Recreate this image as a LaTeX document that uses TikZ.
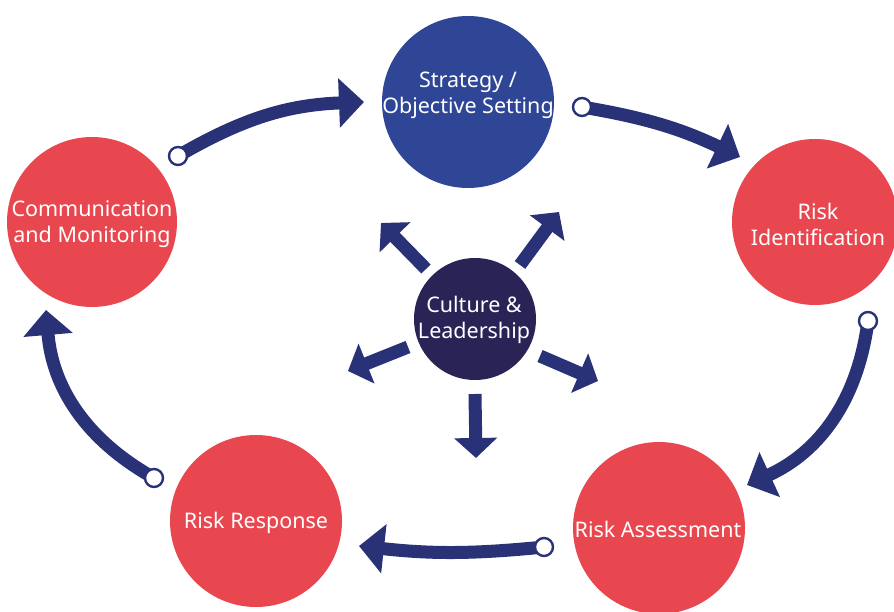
\documentclass[tikz,border=0pt]{standalone}
\usepackage{fontspec}
\setmainfont{Noto Sans}
\usetikzlibrary{arrows.meta}
\definecolor{redc}{HTML}{E8474F}
\definecolor{bluec}{HTML}{2F4596}
\definecolor{darkc}{HTML}{2A2356}
\definecolor{navy}{HTML}{293276}
\begin{document}
\begin{tikzpicture}[x=1pt,y=-1pt,
  bubble/.style={circle, fill=redc, minimum size=170pt, inner sep=0pt},
  lbl/.style={text=white, font=\fontsize{21.5}{26}\selectfont, align=center, inner sep=0pt},
  flow/.style={draw=navy, line width=13pt, -{Triangle[length=25pt 0 0, width=48pt 0 0]}},
  cflow/.style={draw=navy, line width=13pt, -{Triangle[length=20pt 0 0, width=42pt 0 0]}},
  dot/.style={circle, draw=navy, fill=white, line width=2.4pt, minimum size=18pt, inner sep=0pt}]
\useasboundingbox (0,0) rectangle (894,612);
% circles
\node[bubble, fill=bluec, minimum size=172pt] (strat) at (468,102) {};
\node[bubble, minimum size=166pt] (ident) at (815,222) {};
\node[bubble, minimum size=170pt] (comm) at (92,222) {};
\node[bubble, minimum size=172pt] (resp) at (256,521) {};
\node[bubble, minimum size=172pt] (assess) at (659,528) {};
\node[bubble, fill=darkc, minimum size=122pt] (cult) at (475,319) {};
% labels
\node[lbl] (tstrat) at (468,95) {Strategy /\\Objective Setting};
\node[lbl] (tident) at (818,224) {Risk\\Identification};
\node[lbl] (tcomm) at (92,224) {Communication\\and Monitoring};
\node[lbl] (tresp) at (256,523) {Risk Response};
\node[lbl] (tassess) at (658,529) {Risk Assessment};
\node[lbl] (tcult) at (474,320) {Culture \&\\Leadership};
% cycle connectors
\coordinate (s1) at (178,156); \coordinate (e1) at (364,102);
\coordinate (s2) at (582,107); \coordinate (e2) at (740,157);
\coordinate (s3) at (868,321); \coordinate (e3) at (747,485);
\coordinate (s4) at (544,547); \coordinate (e4) at (359,546);
\coordinate (s5) at (154,478); \coordinate (e5) at (46,310);
\draw[flow] (s1) to[bend left=14] (e1);
\draw[flow] (s2) to[bend left=8] (e2);
\draw[flow] (s3) to[bend left=29] (e3);
\draw[flow] (s4) to[bend left=6] (e4);
\draw[flow] (s5) to[bend left=28] (e5);
\node[dot] (d1) at (s1) {};
\node[dot] (d2) at (s2) {};
\node[dot] (d3) at (s3) {};
\node[dot] (d4) at (s4) {};
\node[dot] (d5) at (s5) {};
% culture arrows
\coordinate (ct1) at (426,269); \coordinate (ch1) at (381,223);
\coordinate (ct2) at (520,265); \coordinate (ch2) at (559,212);
\coordinate (ct3) at (408,347); \coordinate (ch3) at (348,371);
\coordinate (ct4) at (540,356); \coordinate (ch4) at (598,381);
\coordinate (ct5) at (475,394); \coordinate (ch5) at (476,458);
\foreach \i in {1,...,5} {\draw[cflow] (ct\i) -- (ch\i);}
\end{tikzpicture}
\end{document}
